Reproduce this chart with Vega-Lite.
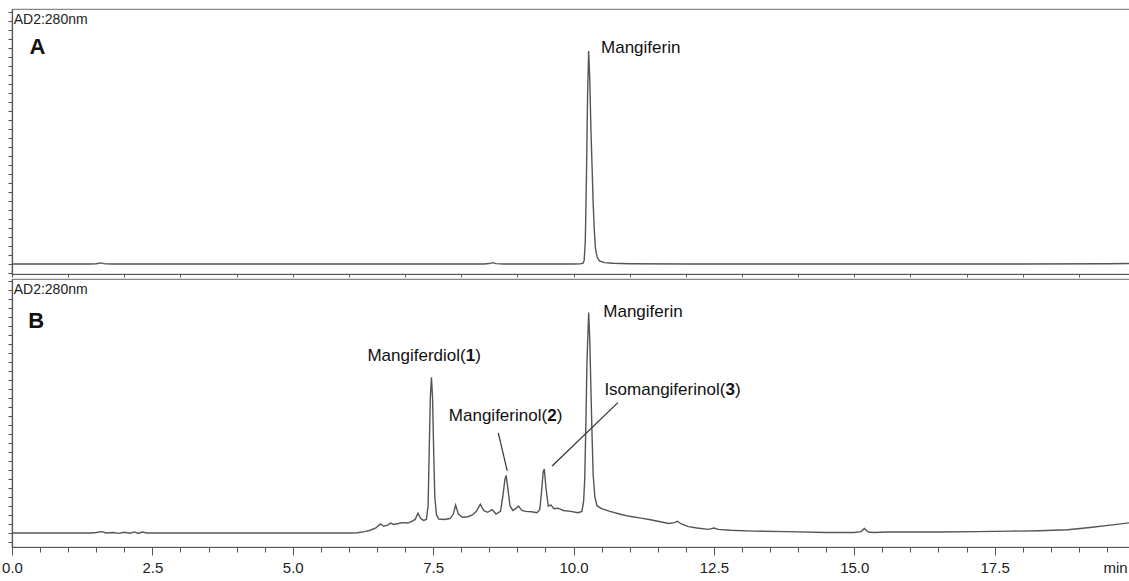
{
  "$schema": "https://vega.github.io/schema/vega-lite/v6.json",
  "padding": {"left": 0, "top": 8, "right": 0, "bottom": 0},
  "spacing": 5,
  "bounds": "flush",
  "config": {
    "view": {"stroke": "#888", "strokeWidth": 1.2},
    "font": "Liberation Sans",
    "axis": {"grid": false, "domainColor": "#555", "tickColor": "#555", "domainWidth": 1.2, "labelOverlap": false}
  },
  "datasets": {
    "traceA": [
      {"t":0,"v":0},{"t":0.5,"v":0},{"t":1.4,"v":0},{"t":1.5,"v":0.3},{"t":1.58,"v":1.2},{"t":1.66,"v":0.2},{"t":1.8,"v":0},{"t":2.5,"v":0},{"t":4,"v":0},{"t":6,"v":0},{"t":8.4,"v":0},{"t":8.5,"v":0.5},{"t":8.56,"v":1.5},{"t":8.62,"v":0.4},{"t":8.75,"v":0},{"t":9.5,"v":0},{"t":10.0,"v":0},{"t":10.12,"v":0.2},{"t":10.17,"v":1},{"t":10.19,"v":4},{"t":10.21,"v":25},{"t":10.23,"v":95},{"t":10.25,"v":185},{"t":10.27,"v":236.7},{"t":10.29,"v":205},{"t":10.31,"v":150},{"t":10.33,"v":110},{"t":10.35,"v":68},{"t":10.37,"v":38},{"t":10.39,"v":18},{"t":10.42,"v":8},{"t":10.46,"v":3.5},{"t":10.55,"v":1.5},{"t":10.7,"v":0.8},{"t":11,"v":0.3},{"t":12,"v":0},{"t":14,"v":0},{"t":16,"v":0},{"t":18,"v":0},{"t":19.5,"v":0.3},{"t":20,"v":0.6}
    ],
    "traceB": [
      {"t":0,"v":0},{"t":1.4,"v":0},{"t":1.5,"v":0.5},{"t":1.6,"v":1.5},{"t":1.68,"v":0},{"t":1.8,"v":0.5},{"t":1.9,"v":-0.5},{"t":2.0,"v":0.8},{"t":2.1,"v":-0.3},{"t":2.18,"v":1.2},{"t":2.25,"v":-0.5},{"t":2.32,"v":1},{"t":2.4,"v":0},{"t":3.0,"v":0},{"t":4,"v":0},{"t":5,"v":0},{"t":6.0,"v":0},{"t":6.15,"v":0.3},{"t":6.28,"v":1.5},{"t":6.38,"v":3},{"t":6.48,"v":5.5},{"t":6.56,"v":10},{"t":6.62,"v":7.5},{"t":6.7,"v":9},{"t":6.74,"v":11},{"t":6.8,"v":9.5},{"t":6.88,"v":10.5},{"t":6.95,"v":11.5},{"t":7.05,"v":11},{"t":7.12,"v":13},{"t":7.18,"v":15},{"t":7.23,"v":22},{"t":7.28,"v":16},{"t":7.33,"v":14},{"t":7.38,"v":15},{"t":7.41,"v":30},{"t":7.43,"v":90},{"t":7.45,"v":150},{"t":7.47,"v":173},{"t":7.49,"v":150},{"t":7.51,"v":90},{"t":7.53,"v":40},{"t":7.56,"v":20},{"t":7.6,"v":15.5},{"t":7.7,"v":15},{"t":7.8,"v":16},{"t":7.86,"v":21},{"t":7.9,"v":31},{"t":7.95,"v":21},{"t":8.02,"v":17.5},{"t":8.12,"v":18},{"t":8.2,"v":20},{"t":8.27,"v":24},{"t":8.34,"v":32},{"t":8.4,"v":25},{"t":8.47,"v":23},{"t":8.55,"v":26},{"t":8.62,"v":21},{"t":8.7,"v":24},{"t":8.74,"v":40},{"t":8.78,"v":60},{"t":8.8,"v":64},{"t":8.83,"v":50},{"t":8.87,"v":30},{"t":8.92,"v":25},{"t":8.97,"v":27},{"t":9.02,"v":30},{"t":9.08,"v":25},{"t":9.15,"v":24},{"t":9.25,"v":23.5},{"t":9.35,"v":22.5},{"t":9.4,"v":26},{"t":9.43,"v":45},{"t":9.46,"v":68},{"t":9.48,"v":71},{"t":9.51,"v":50},{"t":9.55,"v":30},{"t":9.6,"v":31},{"t":9.65,"v":27},{"t":9.72,"v":27.5},{"t":9.82,"v":25},{"t":9.95,"v":24},{"t":10.08,"v":22.5},{"t":10.15,"v":24},{"t":10.18,"v":35},{"t":10.2,"v":60},{"t":10.22,"v":120},{"t":10.24,"v":190},{"t":10.27,"v":245},{"t":10.29,"v":215},{"t":10.31,"v":160},{"t":10.33,"v":110},{"t":10.35,"v":65},{"t":10.38,"v":40},{"t":10.42,"v":30},{"t":10.5,"v":27},{"t":10.65,"v":24},{"t":10.85,"v":20.5},{"t":11.0,"v":18.5},{"t":11.2,"v":16.5},{"t":11.35,"v":15},{"t":11.5,"v":13},{"t":11.7,"v":10.5},{"t":11.8,"v":11.5},{"t":11.85,"v":13},{"t":11.92,"v":10},{"t":12.05,"v":7},{"t":12.2,"v":5.5},{"t":12.4,"v":4},{"t":12.5,"v":5.5},{"t":12.58,"v":4},{"t":12.8,"v":3},{"t":13.2,"v":2},{"t":13.8,"v":1.5},{"t":14.5,"v":0.5},{"t":15.0,"v":0.5},{"t":15.12,"v":1.5},{"t":15.18,"v":5},{"t":15.25,"v":1},{"t":15.35,"v":0.5},{"t":15.6,"v":1},{"t":16.5,"v":1},{"t":17.2,"v":1.5},{"t":17.8,"v":2},{"t":18.3,"v":2.5},{"t":18.8,"v":3.5},{"t":19.2,"v":6},{"t":19.6,"v":9},{"t":20,"v":12}
    ],
    "labelsA": [
      {"kind":"hdr","label":"AD2:280nm","t":0.03,"v":270.7},
      {"kind":"panel","label":"A","t":0.31,"v":241},
      {"kind":"peak","label":"Mangiferin","t":10.49,"v":240}
    ],
    "labelsB": [
      {"kind":"hdr","label":"AD2:280nm","t":0.03,"v":269.6},
      {"kind":"panel","label":"B","t":0.29,"v":235},
      {"kind":"peak","label":"Mangiferin","t":10.53,"v":245},
      {"kind":"peak","label":"Mangiferdiol(","t":6.33,"v":196.7},
      {"kind":"peak","label":"Mangiferinol(","t":7.78,"v":130},
      {"kind":"peak","label":"Isomangiferinol(","t":10.55,"v":159.4},
      {"kind":"num12","label":"1","t":6.33,"v":196.7},
      {"kind":"num12","label":"2","t":7.78,"v":130},
      {"kind":"num3","label":"3","t":10.55,"v":159.4},
      {"kind":"close12","label":")","t":6.33,"v":196.7},
      {"kind":"close12","label":")","t":7.78,"v":130},
      {"kind":"close3","label":")","t":10.55,"v":159.4}
    ],
    "leaders": [
      {"t":8.66,"t2":8.82,"v":111.1,"v2":68.9},
      {"t":10.79,"t2":9.62,"v":144.8,"v2":74.4}
    ]
  },
  "vconcat": [
    {
      "width": 1123,
      "height": 265,
      "layer": [
        {
          "data": {"name": "traceA"},
          "mark": {"type": "line", "color": "#555", "strokeWidth": 1.4, "clip": true},
          "encoding": {
            "x": {"field": "t", "type": "quantitative", "title": null,
              "scale": {"domain": [0, 20], "nice": false, "zero": false},
              "axis": {"labels": false, "tickSize": 3, "values": [0,0.5,1,1.5,2,2.5,3,3.5,4,4.5,5,5.5,6,6.5,7,7.5,8,8.5,9,9.5,10,10.5,11,11.5,12,12.5,13,13.5,14,14.5,15,15.5,16,16.5,17,17.5,18,18.5,19,19.5,20]}},
            "y": {"field": "v", "type": "quantitative", "title": null,
              "scale": {"domain": [-11.1, 283.3], "nice": false, "zero": false},
              "axis": {"labels": false, "tickSize": 4, "tickCount": 30}}
          }
        },
        {
          "data": {"name": "labelsA"},
          "transform": [{"filter": "datum.kind === 'hdr'"}],
          "mark": {"type": "text", "align": "left", "baseline": "middle", "fontSize": 14, "color": "#222"},
          "encoding": {"x": {"field": "t", "type": "quantitative", "title": null}, "y": {"field": "v", "type": "quantitative", "title": null}, "text": {"field": "label"}}
        },
        {
          "data": {"name": "labelsA"},
          "transform": [{"filter": "datum.kind === 'panel'"}],
          "mark": {"type": "text", "align": "left", "baseline": "middle", "fontSize": 22, "fontWeight": "bold", "color": "#111"},
          "encoding": {"x": {"field": "t", "type": "quantitative", "title": null}, "y": {"field": "v", "type": "quantitative", "title": null}, "text": {"field": "label"}}
        },
        {
          "data": {"name": "labelsA"},
          "transform": [{"filter": "datum.kind === 'peak'"}],
          "mark": {"type": "text", "align": "left", "baseline": "middle", "fontSize": 17, "color": "#111"},
          "encoding": {"x": {"field": "t", "type": "quantitative", "title": null}, "y": {"field": "v", "type": "quantitative", "title": null}, "text": {"field": "label"}}
        }
      ]
    },
    {
      "width": 1123,
      "height": 268,
      "resolve": {"axis": {"x": "independent"}},
      "layer": [
        {
          "data": {"name": "traceB"},
          "mark": {"type": "line", "color": "#555", "strokeWidth": 1.4, "clip": true},
          "encoding": {
            "x": {"field": "t", "type": "quantitative", "title": null,
              "scale": {"domain": [0, 20], "nice": false, "zero": false},
              "axis": {
                "orient": "bottom",
                "values": [0,2.5,5,7.5,10,12.5,15,17.5,20],
                "labelExpr": "datum.value === 20 ? 'min' : format(datum.value, '.1f')",
                "labelOffset": {"condition": {"test": "datum.value === 20", "value": -20}, "value": 0},
                "tickSize": 8,
                "labelFontSize": 15, "labelColor": "#222", "labelPadding": 5,
                "labelOverlap": false, "labelFlush": false
              }},
            "y": {"field": "v", "type": "quantitative", "title": null,
              "scale": {"domain": [-15.6, 282.2], "nice": false, "zero": false},
              "axis": {"labels": false, "tickSize": 4, "tickCount": 30}}
          }
        },
        {
          "data": {"name": "leaders"},
          "mark": {"type": "rule", "color": "#333", "strokeWidth": 1.2},
          "encoding": {
            "x": {"field": "t", "type": "quantitative", "title": null,
              "axis": {"orient": "bottom", "labels": false, "domain": false, "tickSize": 5,
                "values": [0.5,1,1.5,2,3,3.5,4,4.5,5.5,6,6.5,7,8,8.5,9,9.5,10.5,11,11.5,12,13,13.5,14,14.5,15.5,16,16.5,17,18,18.5,19,19.5]}},
            "x2": {"field": "t2"},
            "y": {"field": "v", "type": "quantitative", "title": null},
            "y2": {"field": "v2"}
          }
        },
        {
          "data": {"name": "labelsB"},
          "transform": [{"filter": "datum.kind === 'hdr'"}],
          "mark": {"type": "text", "align": "left", "baseline": "middle", "fontSize": 14, "color": "#222"},
          "encoding": {"x": {"field": "t", "type": "quantitative", "title": null, "axis": null}, "y": {"field": "v", "type": "quantitative", "title": null}, "text": {"field": "label"}}
        },
        {
          "data": {"name": "labelsB"},
          "transform": [{"filter": "datum.kind === 'panel'"}],
          "mark": {"type": "text", "align": "left", "baseline": "middle", "fontSize": 22, "fontWeight": "bold", "color": "#111"},
          "encoding": {"x": {"field": "t", "type": "quantitative", "title": null, "axis": null}, "y": {"field": "v", "type": "quantitative", "title": null}, "text": {"field": "label"}}
        },
        {
          "data": {"name": "labelsB"},
          "transform": [{"filter": "datum.kind === 'peak'"}],
          "mark": {"type": "text", "align": "left", "baseline": "middle", "fontSize": 17, "color": "#111"},
          "encoding": {"x": {"field": "t", "type": "quantitative", "title": null, "axis": null}, "y": {"field": "v", "type": "quantitative", "title": null}, "text": {"field": "label"}}
        },
        {
          "data": {"name": "labelsB"},
          "transform": [{"filter": "datum.kind === 'num12'"}],
          "mark": {"type": "text", "align": "left", "baseline": "middle", "fontSize": 17, "fontWeight": "bold", "color": "#111", "dx": 98.3},
          "encoding": {"x": {"field": "t", "type": "quantitative", "title": null, "axis": null}, "y": {"field": "v", "type": "quantitative", "title": null}, "text": {"field": "label"}}
        },
        {
          "data": {"name": "labelsB"},
          "transform": [{"filter": "datum.kind === 'num3'"}],
          "mark": {"type": "text", "align": "left", "baseline": "middle", "fontSize": 17, "fontWeight": "bold", "color": "#111", "dx": 121},
          "encoding": {"x": {"field": "t", "type": "quantitative", "title": null, "axis": null}, "y": {"field": "v", "type": "quantitative", "title": null}, "text": {"field": "label"}}
        },
        {
          "data": {"name": "labelsB"},
          "transform": [{"filter": "datum.kind === 'close12'"}],
          "mark": {"type": "text", "align": "left", "baseline": "middle", "fontSize": 17, "color": "#111", "dx": 107.8},
          "encoding": {"x": {"field": "t", "type": "quantitative", "title": null, "axis": null}, "y": {"field": "v", "type": "quantitative", "title": null}, "text": {"field": "label"}}
        },
        {
          "data": {"name": "labelsB"},
          "transform": [{"filter": "datum.kind === 'close3'"}],
          "mark": {"type": "text", "align": "left", "baseline": "middle", "fontSize": 17, "color": "#111", "dx": 130.5},
          "encoding": {"x": {"field": "t", "type": "quantitative", "title": null, "axis": null}, "y": {"field": "v", "type": "quantitative", "title": null}, "text": {"field": "label"}}
        }
      ]
    }
  ]
}
